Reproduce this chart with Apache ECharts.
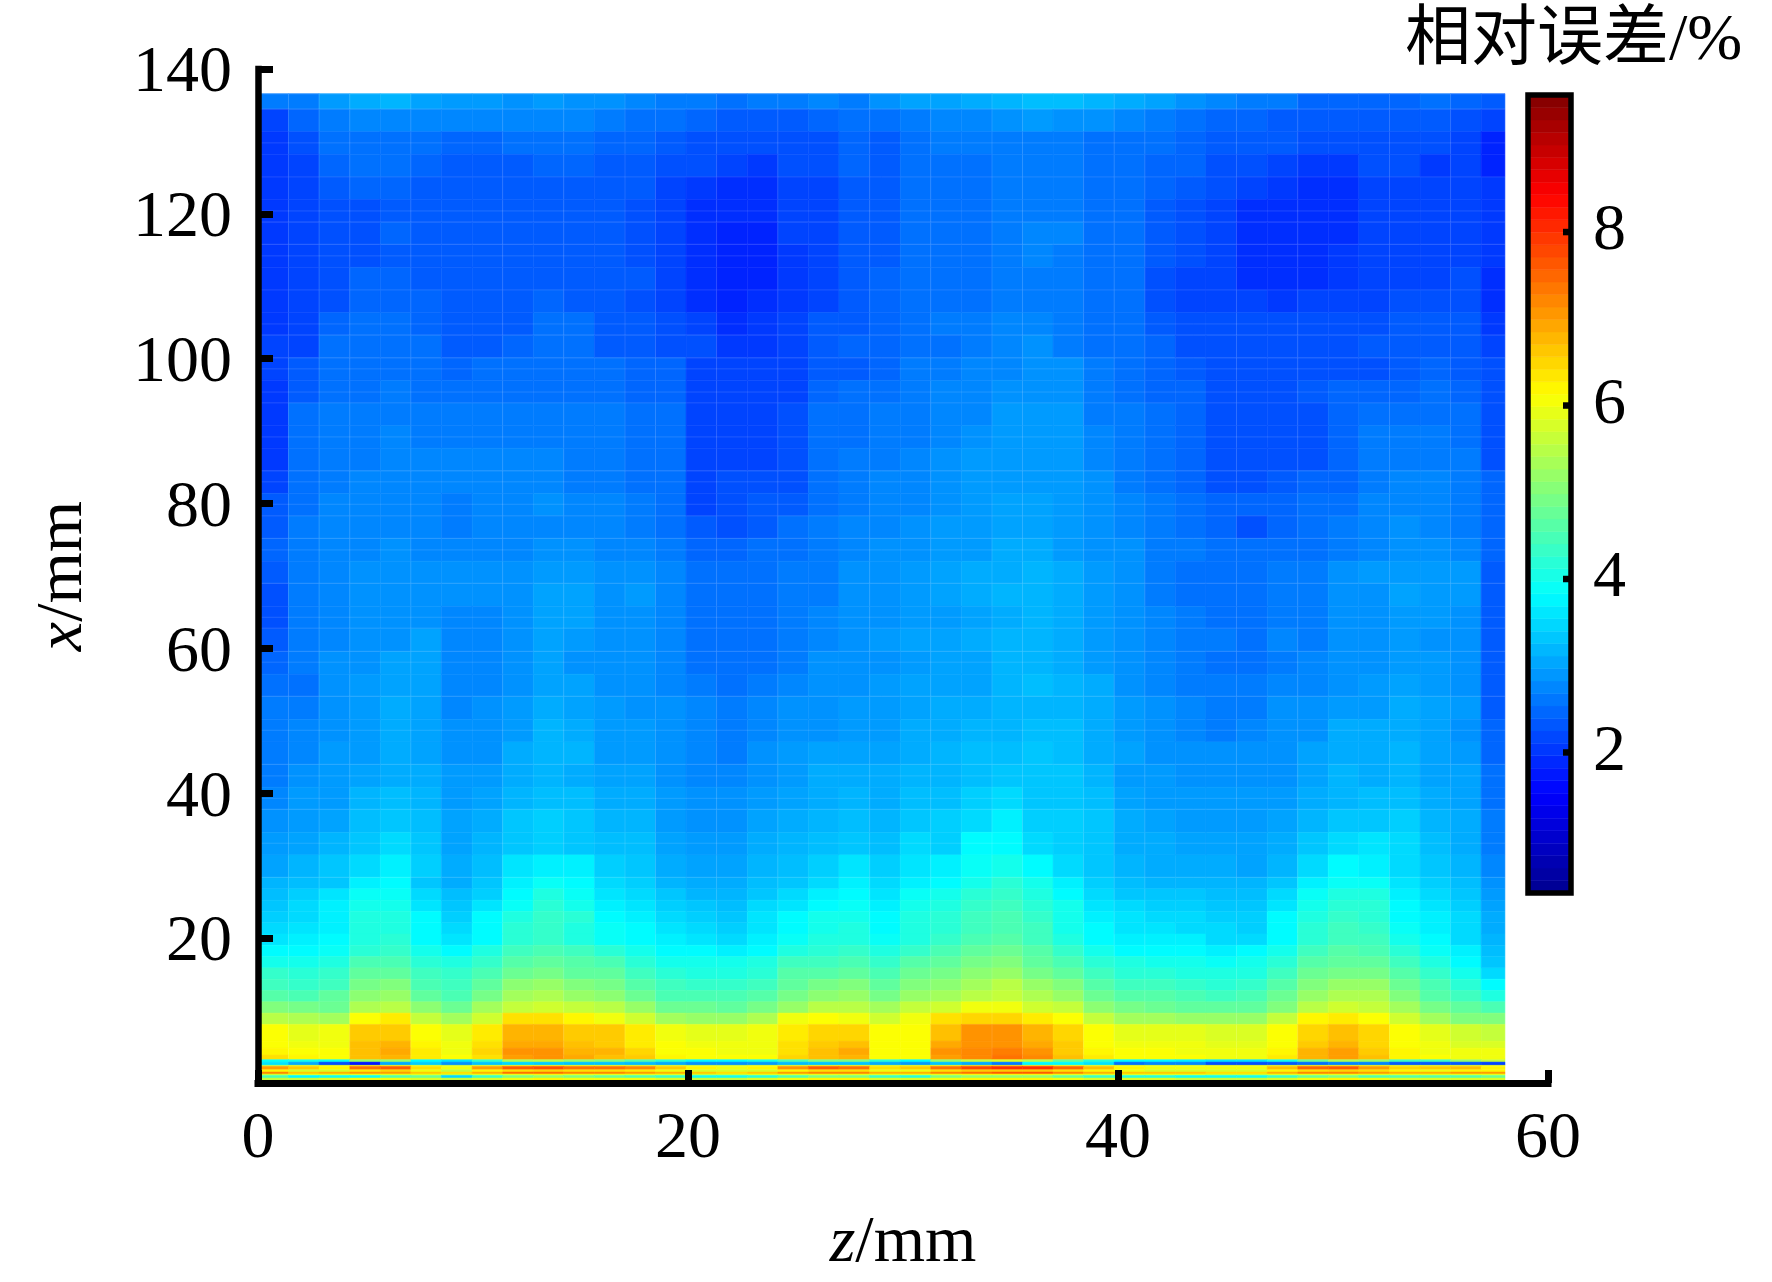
<!DOCTYPE html>
<html><head><meta charset="utf-8">
<style>html,body{margin:0;padding:0;background:#fff}#c{width:1772px;height:1282px}</style>
<script src="https://cdn.jsdelivr.net/npm/echarts@6/dist/echarts.min.js"></script>
</head><body><div id="c"></div>
<script>
// Column edges along z (mm) and row edges along x (mm)
const zEdges=[0,1.42,2.84,4.27,5.69,7.11,8.53,9.96,11.38,12.80,14.22,15.65,17.07,18.49,19.91,21.33,22.76,24.18,25.60,27.02,28.45,29.87,31.29,32.71,34.14,35.56,36.98,38.40,39.82,41.25,42.67,44.09,45.51,46.94,48.36,49.78,51.20,52.63,54.05,55.47,56.89,58.0];
const xEdges=[136.6,134.45,131.33,128.21,125.09,121.97,118.85,115.73,112.61,109.49,106.37,103.25,100.13,97.01,93.89,90.77,87.65,84.53,81.41,78.29,75.17,72.05,68.93,65.81,62.69,59.57,56.45,53.33,50.21,47.09,43.97,40.85,37.73,34.61,31.49,28.37,26.81,25.25,23.69,22.13,20.57,19.01,17.45,15.89,14.33,12.77,11.21,9.65,8.09,5.79,4.82,3.86,3.22,2.89,2.44,2.30,1.83,1.52,1.24,1.06,0.69,0.41];
// Relative error in tenths of a percent, one array per row, top to bottom
const r00=[25,25,28,30,31,29,28,28,27,28,27,27,26,25,25,24,25,25,26,25,27,29,29,30,31,32,32,31,30,29,27,26,25,25,23,23,23,23,24,23,22];
const r01=[20,23,25,26,26,26,26,26,26,26,26,25,24,24,23,22,22,22,23,24,24,25,26,26,27,28,27,27,26,25,24,23,23,22,22,22,22,22,22,21,20];
const r02=[19,21,24,24,24,24,23,23,24,24,24,23,23,22,21,21,21,21,21,23,22,24,25,25,25,25,25,24,24,24,23,22,22,22,21,21,21,21,21,20,17];
const r03=[19,20,23,24,24,23,22,22,22,23,23,22,22,21,21,20,19,21,21,23,22,24,24,24,25,25,25,24,24,23,23,21,21,20,19,19,21,21,19,20,17];
const r04=[19,20,22,23,23,22,22,22,22,22,22,22,22,20,19,18,18,20,20,22,22,24,24,24,25,25,25,24,24,23,22,21,20,19,18,18,20,20,20,20,19];
const r05=[19,20,21,21,22,22,22,22,22,22,22,22,21,20,18,18,18,20,20,22,22,24,24,24,25,25,25,24,24,22,21,20,18,18,18,18,20,20,20,20,19];
const r06=[19,20,21,21,23,22,22,22,22,22,22,22,21,20,18,17,17,20,20,22,22,24,24,24,25,26,26,24,24,22,21,20,18,18,18,18,20,20,20,20,19];
const r07=[19,20,21,21,22,22,22,22,22,22,22,22,21,20,18,17,17,19,20,22,22,24,24,24,25,26,25,24,24,22,21,20,18,18,18,19,20,20,20,20,19];
const r08=[19,20,21,23,23,22,22,22,22,22,22,22,22,20,18,17,17,19,20,22,23,24,24,24,25,25,25,24,24,21,20,20,18,18,18,19,20,20,20,21,18];
const r09=[19,20,21,23,23,23,22,22,22,23,22,22,21,20,18,17,18,19,20,22,23,24,24,24,25,25,25,24,24,21,20,20,20,19,20,20,20,21,21,21,18];
const r10=[19,20,23,24,24,23,22,22,22,24,24,22,22,21,20,18,19,20,22,22,23,24,25,25,26,26,25,24,24,22,21,21,21,21,21,21,21,22,22,22,19];
const r11=[20,20,24,24,24,24,22,22,23,24,24,22,22,21,21,19,19,20,22,23,23,24,24,25,26,27,25,24,24,23,21,21,21,21,21,21,22,22,22,22,20];
const r12=[20,22,24,24,24,24,23,24,24,24,24,24,23,23,20,20,20,20,22,22,23,25,25,26,26,27,27,25,24,23,22,21,21,21,21,21,21,22,23,22,21];
const r13=[19,22,24,24,25,24,24,24,24,24,24,24,23,23,20,20,20,20,23,24,24,25,26,26,27,27,27,25,24,23,23,21,21,21,22,23,23,23,24,23,21];
const r14=[19,24,25,25,25,25,25,25,25,25,25,25,24,24,20,20,20,21,24,24,25,25,26,26,28,28,28,25,25,24,23,21,21,21,21,23,24,24,24,24,21];
const r15=[19,24,25,25,26,25,25,25,25,25,25,25,24,24,20,20,20,21,24,24,25,25,26,27,28,28,28,26,25,24,23,21,21,21,21,23,25,25,25,24,21];
const r16=[19,24,25,25,26,26,26,26,26,26,25,25,24,24,20,20,20,21,24,25,25,26,27,28,28,28,28,26,25,24,23,21,21,21,21,23,25,25,25,25,21];
const r17=[20,24,25,26,26,26,26,26,26,26,25,25,24,24,20,21,21,21,24,25,26,26,27,28,28,28,28,27,25,24,23,21,21,22,23,23,25,26,26,25,23];
const r18=[22,24,26,26,26,26,25,26,26,27,26,26,25,24,20,21,22,22,24,25,26,26,27,28,29,29,28,27,26,25,24,23,23,23,24,24,26,26,26,25,23];
const r19=[22,25,26,26,26,26,25,26,26,26,26,26,25,24,22,21,22,24,25,26,26,27,28,28,29,29,28,27,26,25,24,23,21,23,24,25,26,27,26,25,23];
const r20=[23,25,26,26,27,26,26,26,26,27,27,26,26,25,23,23,24,24,25,26,27,27,28,28,30,30,28,27,27,25,25,24,24,24,24,25,26,27,27,26,23];
const r21=[22,25,26,27,27,27,27,27,27,28,28,27,27,26,24,24,24,25,25,27,27,28,29,30,30,31,30,28,27,25,24,24,24,25,25,27,28,28,28,28,22];
const r22=[21,25,26,27,27,27,27,27,27,29,29,27,28,26,24,24,24,25,25,27,27,28,29,30,31,31,30,28,27,25,24,24,24,25,25,27,27,29,28,28,22];
const r23=[21,25,26,27,27,27,26,26,27,29,29,27,27,26,24,24,24,25,26,27,27,28,28,29,30,31,30,28,27,26,25,24,24,25,25,27,27,28,28,27,22];
const r24=[22,25,26,27,27,29,26,26,27,29,28,27,27,26,24,24,24,25,26,27,28,29,29,30,31,31,30,28,27,26,25,25,24,26,25,27,27,28,27,27,22];
const r25=[23,25,27,27,29,29,26,26,27,29,27,27,27,26,24,24,24,25,27,27,27,28,29,29,31,31,30,28,27,26,25,24,24,25,26,27,27,28,28,27,22];
const r26=[24,24,27,28,29,29,26,26,27,29,29,27,27,26,25,24,25,26,27,27,28,29,29,29,31,32,31,30,27,26,25,25,25,26,26,27,28,29,28,27,22];
const r27=[25,25,27,28,30,29,26,27,28,30,29,28,27,27,26,25,26,27,27,28,28,29,30,30,31,31,31,30,28,27,26,25,25,27,27,28,28,30,29,28,22];
const r28=[25,26,27,28,30,29,27,27,28,31,30,28,28,27,26,25,26,27,27,28,28,30,30,31,31,32,32,30,28,27,26,25,26,27,27,30,30,30,29,27,23];
const r29=[25,26,28,28,30,29,27,27,30,31,31,28,28,27,26,25,27,28,29,29,29,30,31,32,32,33,32,30,29,27,27,27,27,27,29,30,30,31,29,28,23];
const r30=[25,27,28,29,30,30,28,28,30,31,30,29,29,27,26,26,27,28,30,30,30,31,31,32,33,33,33,31,28,28,27,27,27,27,29,31,30,31,29,29,24];
const r31=[26,28,28,31,32,31,28,29,31,32,32,30,30,28,27,27,28,29,30,31,30,32,32,34,35,33,33,32,29,28,28,28,28,28,30,31,32,32,30,29,24];
const r32=[27,28,29,32,33,32,29,30,33,34,33,31,31,28,27,27,29,30,31,32,31,33,34,35,37,34,34,33,30,29,28,28,28,29,31,33,33,34,31,30,25];
const r33=[28,29,31,33,35,33,29,31,33,34,33,32,32,29,28,28,30,31,32,33,32,35,34,38,38,35,34,33,30,30,29,29,29,30,33,35,36,35,32,30,25];
const r34=[29,31,33,35,37,34,30,32,36,37,37,34,33,30,29,29,31,32,34,36,34,36,37,39,40,38,35,33,31,30,30,30,29,31,35,38,37,35,33,31,26];
const r35=[31,32,33,37,38,33,30,33,37,39,38,35,34,31,30,30,32,33,35,37,35,37,38,40,42,40,37,34,32,31,31,31,31,33,37,39,39,36,34,32,27];
const r36=[32,34,36,39,39,35,32,34,38,41,39,36,35,33,31,31,33,35,37,38,36,39,40,42,43,41,38,35,33,33,33,32,32,35,39,41,41,37,35,33,28];
const r37=[33,35,37,40,40,36,33,36,39,42,40,37,36,34,33,32,35,36,38,39,37,40,41,43,44,42,40,36,35,34,34,33,33,36,40,42,42,38,36,34,29];
const r38=[34,35,37,41,41,38,34,38,41,43,42,38,37,35,34,33,36,38,40,40,38,41,42,44,45,43,40,37,36,35,35,34,34,38,41,43,42,38,37,35,30];
const r39=[35,36,37,41,41,38,35,38,42,43,41,39,38,36,35,34,36,38,40,41,38,41,42,44,45,44,40,38,36,36,35,35,34,38,42,44,43,39,37,35,30];
const r40=[36,37,38,41,42,38,36,38,42,43,41,39,38,37,36,35,37,39,41,41,39,41,43,45,46,44,41,38,37,37,37,35,35,38,42,44,44,40,38,35,31];
const r41=[38,38,39,42,43,40,38,41,44,45,44,42,40,38,38,37,38,41,42,43,41,43,45,47,48,46,43,40,38,38,38,37,38,40,44,46,45,42,39,37,32];
const r42=[40,40,41,45,45,42,41,43,46,47,46,45,42,40,40,40,41,44,44,45,43,46,47,49,50,47,45,42,41,40,40,39,40,42,46,47,47,44,41,38,33];
const r43=[43,42,43,47,47,44,43,45,48,49,47,47,44,42,41,41,42,46,46,47,45,48,49,51,52,49,47,44,42,42,41,41,41,44,48,49,49,46,43,40,35];
const r44=[44,43,44,49,50,45,44,47,51,52,50,49,46,44,43,43,44,47,49,50,47,50,51,53,55,52,50,46,44,44,43,42,43,46,50,52,52,48,45,42,38];
const r45=[46,45,47,51,52,47,45,49,53,54,52,51,48,45,45,45,46,49,51,52,49,52,53,55,56,54,52,48,46,46,45,44,45,48,52,54,54,50,46,44,41];
const r46=[50,49,48,54,55,51,48,53,56,57,56,55,52,48,48,47,49,52,55,55,53,56,57,60,60,57,56,51,49,48,47,47,47,50,55,57,56,53,49,47,45];
const r47=[55,54,53,61,63,56,53,57,64,64,62,60,57,53,52,52,54,60,61,60,57,60,64,65,65,63,61,56,53,53,52,52,52,56,62,63,61,57,53,50,50];
const r48=[61,59,60,66,66,61,59,63,68,68,66,66,63,60,59,59,60,63,65,65,61,61,67,71,71,68,65,61,59,59,59,58,58,61,65,67,65,61,59,57,56];
const r49=[61,60,60,67,68,62,60,64,69,69,67,66,63,61,60,60,60,64,66,67,61,61,69,71,71,69,66,61,60,60,60,59,59,61,66,68,65,61,60,58,58];
const r50=[62,61,61,67,69,63,60,65,71,71,68,68,65,61,61,60,60,64,67,69,61,61,71,72,73,71,66,62,61,61,60,60,60,62,68,70,66,62,60,60,60];
const r51=[64,62,61,67,68,63,61,64,70,71,69,67,66,62,61,61,61,65,67,68,61,61,70,72,74,72,67,63,61,61,61,60,60,63,68,70,67,62,61,60,60];
const r52=[39,40,39,52,52,38,36,43,54,55,52,50,46,42,38,38,40,45,50,50,42,38,52,56,58,55,48,42,38,38,37,36,36,40,48,54,52,44,44,52,56];
const r53=[36,30,21,16,30,34,27,33,35,34,33,33,32,30,27,27,28,32,33,33,30,28,33,30,25,38,38,36,24,26,26,21,21,22,24,26,26,22,22,22,20];
const r54=[56,60,60,62,62,60,58,60,62,62,61,61,60,60,58,58,60,60,62,62,60,60,62,64,64,64,62,60,60,60,60,60,60,60,62,62,62,60,60,60,60];
const r55=[70,66,62,74,76,64,60,70,76,77,74,74,72,66,62,60,62,71,76,74,64,66,74,78,80,80,75,67,62,60,60,60,60,67,75,76,70,65,66,67,62];
const r56=[62,58,58,63,65,60,56,62,64,65,64,64,63,60,58,58,58,62,64,64,60,60,64,66,66,66,64,62,60,58,58,58,58,62,64,65,64,62,60,62,62];
const r57=[72,66,68,70,70,66,64,68,74,74,72,72,70,68,66,64,66,70,72,72,68,68,72,74,76,76,72,68,66,66,66,64,64,68,72,72,70,68,68,70,70];
const r58=[58,60,60,60,60,60,58,60,60,62,60,60,60,60,58,58,60,60,60,60,60,60,60,62,62,62,60,60,60,60,60,58,58,60,60,60,60,60,60,60,60];
const r59=[45,38,40,40,46,48,35,44,50,52,50,48,46,44,40,40,42,46,50,50,44,42,50,52,52,52,48,44,42,42,40,40,40,44,48,50,46,46,46,46,48];
const r60=[56,56,58,60,60,58,56,58,60,62,60,60,60,58,56,56,58,60,62,62,58,58,60,62,62,62,60,58,58,58,56,56,56,58,60,62,60,58,58,58,58];
const errorRows=[r00,r01,r02,r03,r04,r05,r06,r07,r08,r09,r10,r11,r12,r13,r14,r15,r16,r17,r18,r19,r20,r21,r22,r23,r24,r25,r26,r27,r28,r29,r30,r31,r32,r33,r34,r35,r36,r37,r38,r39,r40,r41,r42,r43,r44,r45,r46,r47,r48,r49,r50,r51,r52,r53,r54,r55,r56,r57,r58,r59,r60];
// Faint mesh seams visible in the picture (mm)
const seamX=[136.55,134.5,129.8,125.1,120.4,118.9,115.8,114.2,109.5,104.8,103.3,100.1,98.6,95.4,93.9,89.2,84.5,83.0,79.9,78.3,75.2,73.6,69.0,64.3,62.8,59.6,58.1,53.4,48.7,44.0,42.4,39.3,37.8,33.1,28.4];
const seamZ=[1.42,2.84,4.27,7.11,11.38,14.22,17.07,18.49,21.33,24.18,28.45,31.29,34.14,35.56,38.40,39.82,41.25,45.51,48.36,52.63,55.47,58.0];
const barTicks=[2,4,6,8];
const barMin=0.38, barMax=9.58, levelCount=64;
const jetColors=['#00008f','#0000ff','#007fff','#00ffff','#7fff7f','#ffff00','#ff7f00','#ff0000','#800000'];

// Colour calibration of the blue readings, made after comparing with the reference
function toPercent(t){
  if(t<=27) return t/10+0.15;
  if(t<34) return t/10+0.15*(34-t)/7;
  return t/10;
}
const heatData=[];
errorRows.forEach((row,r)=>row.forEach((v,c)=>heatData.push([zEdges[c],zEdges[c+1],xEdges[r],xEdges[r+1],toPercent(v)])));
const barData=[];
for(let i=0;i<levelCount;i++){const a=barMin+(barMax-barMin)*i/levelCount,b=barMin+(barMax-barMin)*(i+1)/levelCount;barData.push([0,1,a,b,(a+b)/2]);}
const seamData=seamX.map(v=>[0,58,v,v]).concat(seamZ.map(v=>[v,v,136.6,3.4]));
const barTickData=barTicks.map(v=>[1,v]);

function cellItem(params,api){
  const p=api.coord([api.value(0),api.value(2)]),q=api.coord([api.value(1),api.value(3)]);
  const col=api.visual('color');
  return {type:'rect',shape:{x:p[0],y:p[1],width:q[0]-p[0],height:q[1]-p[1]},style:{fill:col,stroke:col,lineWidth:0.5}};
}
const serif="'Liberation Serif','Noto Sans CJK SC',serif";
const lab={fontFamily:serif,fontSize:66,color:'#000'};
const chart=echarts.init(document.getElementById('c'),null,{renderer:'canvas'});
chart.setOption({
  animation:false,backgroundColor:'#fff',
  title:{text:'相对误差/%',left:1400,top:4,textStyle:{fontFamily:serif,fontSize:66,fontWeight:'normal',color:'#000'}},
  visualMap:[{type:'continuous',show:false,min:barMin,max:barMax,dimension:4,seriesIndex:[0,2],inRange:{color:jetColors}}],
  grid:[{left:258,top:69,width:1290,height:1016},{left:1528,top:95,width:43,height:798}],
  xAxis:[
   {type:'value',gridIndex:0,min:0,max:60,interval:20,z:5,
    name:'{i|z}/mm',nameLocation:'middle',nameGap:128,
    nameTextStyle:{fontFamily:serif,fontSize:66,color:'#000',rich:{i:{fontStyle:'italic',fontFamily:serif,fontSize:66,color:'#000'}}},
    axisLine:{lineStyle:{color:'#000',width:7,cap:'square'}},axisTick:{inside:true,length:13,lineStyle:{color:'#000',width:7}},
    axisLabel:{...lab,margin:24,showMinLabel:true,showMaxLabel:true},splitLine:{show:false}},
   {type:'value',gridIndex:1,min:0,max:1,show:false}
  ],
  yAxis:[
   {type:'value',gridIndex:0,min:0,max:140,interval:20,z:5,offset:3,
    name:'{i|x}/mm',nameLocation:'middle',nameGap:158,nameRotate:90,
    nameTextStyle:{fontFamily:serif,fontSize:66,color:'#000',rich:{i:{fontStyle:'italic',fontFamily:serif,fontSize:66,color:'#000'}}},
    axisLine:{lineStyle:{color:'#000',width:6.5,cap:'square'}},axisTick:{inside:true,length:15,lineStyle:{color:'#000',width:7}},
    axisLabel:{margin:23,formatter:v=>v===0?'':'{a|'+v+'}',rich:{a:{...lab,padding:[10,0,0,0]}}},splitLine:{show:false}},
   {type:'value',gridIndex:1,position:'right',min:barMin,max:barMax,z:7,
    axisLine:{show:false},axisTick:{show:false},
    axisLabel:{...lab,margin:22,customValues:barTicks},splitLine:{show:false}}
  ],
  series:[
   {type:'custom',name:'heat',xAxisIndex:0,yAxisIndex:0,z:2,clip:false,silent:true,progressive:0,renderItem:cellItem,encode:{x:[0,1],y:[2,3]},data:heatData},
   {type:'custom',name:'seams',xAxisIndex:0,yAxisIndex:0,z:3,clip:false,silent:true,
    renderItem:(p,api)=>{const a=api.coord([api.value(0),api.value(2)]),b=api.coord([api.value(1),api.value(3)]);
      return {type:'line',shape:{x1:a[0],y1:a[1],x2:b[0],y2:b[1]},style:{stroke:'rgba(255,255,255,0.13)',lineWidth:1}};},
    encode:{x:[0,1],y:[2,3]},data:seamData},
   {type:'custom',name:'bar',xAxisIndex:1,yAxisIndex:1,z:2,clip:false,silent:true,renderItem:cellItem,encode:{x:[0,1],y:[2,3]},data:barData},
   {type:'custom',name:'frame',xAxisIndex:1,yAxisIndex:1,z:6,clip:false,silent:true,
    renderItem:(p)=>({type:'rect',shape:{x:p.coordSys.x,y:p.coordSys.y,width:p.coordSys.width,height:p.coordSys.height},style:{fill:'none',stroke:'#000',lineWidth:5.5}}),
    data:[[0,0]]},
   {type:'custom',name:'barTicks',xAxisIndex:1,yAxisIndex:1,z:7,clip:false,silent:true,
    renderItem:(p,api)=>{const a=api.coord([api.value(0),api.value(1)]);
      return {type:'line',shape:{x1:a[0],y1:a[1],x2:a[0]-8,y2:a[1]},style:{stroke:'#000',lineWidth:6.5}};},
    encode:{x:0,y:1},data:barTickData}
  ]
});
</script></body></html>
